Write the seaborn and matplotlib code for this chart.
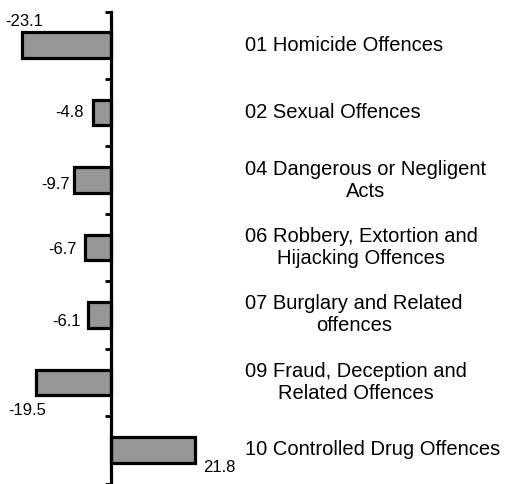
import matplotlib
matplotlib.use("Agg")
import matplotlib.pyplot as plt
import seaborn as sns
import pandas as pd

# data
categories = [
    "01 Homicide Offences",
    "02 Sexual Offences",
    "04 Dangerous or Negligent\nActs",
    "06 Robbery, Extortion and\nHijacking Offences",
    "07 Burglary and Related\noffences",
    "09 Fraud, Deception and\nRelated Offences",
    "10 Controlled Drug Offences",
]
values = [-23.1, -4.8, -9.7, -6.7, -6.1, -19.5, 21.8]
value_labels = ["-23.1", "-4.8", "-9.7", "-6.7", "-6.1", "-19.5", "21.8"]

# where each value label sits relative to the bar end (pixels, alignment)
label_offsets = [(2, 24, "center"), (-9, 0, "right"), (-4, -4, "right"),
                 (-8, -2, "right"), (-7, -7, "right"), (-9, -28, "center"),
                 (8, -18, "left")]

sns.set_theme(style="white")
plt.rcParams["font.family"] = ["Liberation Sans", "DejaVu Sans"]

df = pd.DataFrame({"cat": categories, "val": values})

my_dpi = 100
fig = plt.figure(figsize=(508 / my_dpi, 484 / my_dpi), dpi=my_dpi)
ax = fig.add_axes([0, 1 - 483.5 / 484, 1, (483.5 - 11.5) / 484])

sns.barplot(data=df, x="val", y="cat", orient="h", color="#969696",
            saturation=1, edgecolor="black", linewidth=2.3, width=0.38, ax=ax)

ax.set_xlim(-111 / 3.85, 397 / 3.85)
ax.set_ylim(len(categories) - 0.5, -0.5)

# axis line through zero with ticks between categories
for side in ["top", "right", "bottom"]:
    ax.spines[side].set_visible(False)
ax.spines["left"].set_position(("data", 0))
ax.spines["left"].set_linewidth(2.3)
ax.spines["left"].set_color("black")
ax.set_yticks([i - 0.5 for i in range(len(categories) + 1)])
ax.set_yticklabels([])
ax.tick_params(axis="y", direction="out", length=4, width=2, color="black", left=True)
ax.set_xticks([])
ax.set_xlabel("")
ax.set_ylabel("")

# category names on the right
for i, cat in enumerate(categories):
    ax.text(34.8, i, cat, ha="left", va="center", multialignment="center",
            fontsize=14.5, linespacing=1.2, color="black")

# value labels
for i, (v, lab) in enumerate(zip(values, value_labels)):
    dx, dy, ha = label_offsets[i]
    ax.annotate(lab, xy=(v, i), xytext=(dx, dy), textcoords="offset pixels",
                ha=ha, va="center", fontsize=12, color="black")

fig.savefig("out.png", dpi=my_dpi)
